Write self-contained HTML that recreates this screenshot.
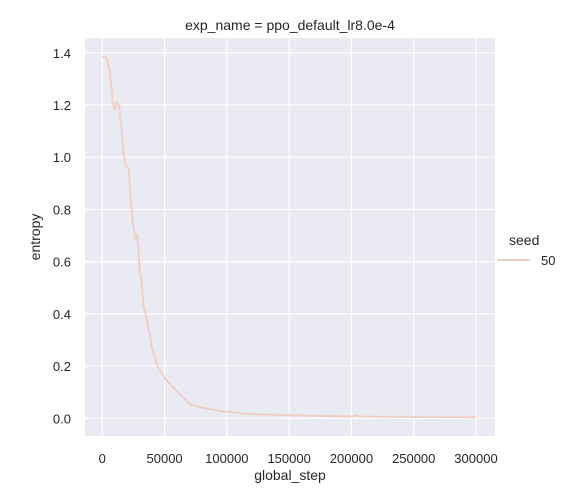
<!DOCTYPE html>
<html><head><meta charset="utf-8"><style>
body{margin:0;background:#fff;}
svg{display:block;font-family:"Liberation Sans",Arial,sans-serif;}
</style></head><body>
<svg id="c" width="572" height="500">
<rect x="85" y="38" width="410" height="398" fill="#eaeaf2"/>
<g id="grid"></g><g id="ticks"></g>
<text x="290" y="30" font-size="14" text-anchor="middle" fill="#262626">exp_name = ppo_default_lr8.0e-4</text>
<text x="290" y="480" font-size="14" text-anchor="middle" fill="#262626">global_step</text>
<text x="0" y="0" font-size="14" text-anchor="middle" fill="#262626" transform="translate(40,237) rotate(-90)">entropy</text>
<g>
<text x="509" y="245" font-size="14" fill="#262626">seed</text>
<line x1="497" y1="260" x2="530" y2="260" stroke="#f0d0c6" stroke-width="2"/>
<text x="541" y="265" font-size="13" fill="#262626">50</text>
</g>
<path id="line" fill="none" stroke="#f0d0c6" stroke-width="2"/>
</svg>
<script>
const steps=[0,2000,3700,6100,8500,10100,11500,13400,15300,16800,18700,21300,22500,24500,26400,27700,28900,29700,31500,33300,35400,38000,40500,44300,47500,50900,57300,63800,70300,80600,96000,120000,150000,200000,203000,206000,250000,300000];
const entropy=[1.385,1.385,1.38,1.322,1.206,1.18,1.21,1.20,1.117,1.027,0.969,0.956,0.86,0.746,0.693,0.708,0.655,0.578,0.527,0.424,0.386,0.322,0.258,0.2,0.174,0.148,0.117,0.085,0.055,0.04,0.027,0.016,0.012,0.007,0.012,0.007,0.005,0.004];
const xTicks=[0,50000,100000,150000,200000,250000,300000];
const yTicks=[0,0.2,0.4,0.6,0.8,1.0,1.2,1.4];
const xs=v=>102.3+v*(476-102.3)/300000;
const ys=v=>418.3-v*261.1;
const NS="http://www.w3.org/2000/svg";
const g=document.getElementById('grid'),t=document.getElementById('ticks');
function mk(tag,attrs,parent){const e=document.createElementNS(NS,tag);for(const k in attrs)e.setAttribute(k,attrs[k]);parent.appendChild(e);return e;}
xTicks.forEach(v=>{
 const l=mk('line',{x1:xs(v),x2:xs(v),y1:38,y2:436,stroke:'#fff','stroke-width':1.2},g);
 
 
 const tx=mk('text',{x:xs(v),y:463,'font-size':13,'text-anchor':'middle',fill:'#262626'},t);
 tx.textContent=String(v);
 
 
});
yTicks.forEach(v=>{
 const l=mk('line',{x1:85,x2:495,y1:ys(v),y2:ys(v),stroke:'#fff','stroke-width':1.2},g);
 
 
 const tx=mk('text',{x:71,y:ys(v)+5,'font-size':13,'text-anchor':'end',fill:'#262626'},t);
 tx.textContent=v.toFixed(1);
 
 
});
document.getElementById('line').setAttribute('d',steps.map((s,i)=>(i?'L':'M')+xs(s).toFixed(1)+','+ys(entropy[i]).toFixed(1)).join(''));
</script>
</body></html>
